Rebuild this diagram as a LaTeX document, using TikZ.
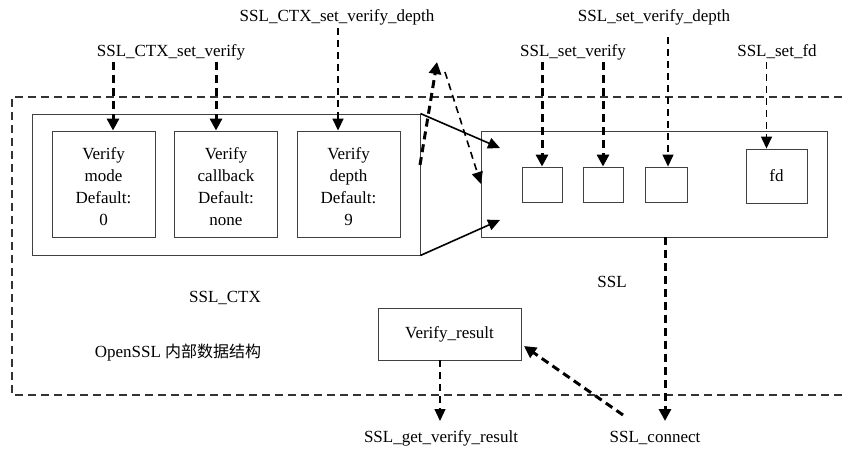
\documentclass[tikz,border=0pt]{standalone}
\usepackage{fontspec}
\setmainfont{Liberation Serif}
\newfontfamily\cjk{Noto Sans CJK SC}
\usetikzlibrary{arrows.meta}
\newcommand{\toppad}{\rule{0pt}{18pt}}
\begin{document}
\begin{tikzpicture}[x=1pt,y=-1pt,
  box/.style={draw=black!75, line width=0.9pt, inner sep=0pt, align=center,
    font=\fontsize{17}{22}\selectfont},
  lbl/.style={inner sep=0pt, font=\fontsize{17}{20}\selectfont},
  thk/.style={line width=3pt, dash pattern=on 8pt off 5pt, -{Triangle[length=12pt,width=12pt]}},
  thn/.style={line width=1.2pt, dash pattern=on 7pt off 5pt, -{Triangle[length=12pt,width=11pt]}},
  sol/.style={line width=1.6pt, -{Triangle[length=12pt,width=11pt]}},
  frame/.style={line width=1.2pt, draw=black!80, dash pattern=on 8pt off 5pt}]
\useasboundingbox (0,0) rectangle (842,450);

% outer frame
\draw[frame] (842,97) -- (12,97) -- (12,395) -- (842,395);

% SSL_CTX box
\node[box, minimum width=388pt, minimum height=141pt] (ctx) at (226,184.5) {};
\node[box, minimum width=103pt, minimum height=106pt] (b1) at (103.5,184) {\toppad Verify\\mode\\Default:\\0};
\node[box, minimum width=103pt, minimum height=106pt] (b2) at (226,184) {\toppad Verify\\callback\\Default:\\none};
\node[box, minimum width=103pt, minimum height=106pt] (b3) at (348.5,184) {\toppad Verify\\depth\\Default:\\9};

% SSL box
\node[box, minimum width=346pt, minimum height=106pt] (ssl) at (654,184) {};
\node[box, minimum width=40pt, minimum height=35pt] (s1) at (542,184.5) {};
\node[box, minimum width=40pt, minimum height=35pt] (s2) at (603,184.5) {};
\node[box, minimum width=42pt, minimum height=35pt] (s3) at (666,184.5) {};
\node[box, minimum width=61pt, minimum height=54pt] (fd) at (776.5,176) {fd};

% Verify_result box
\node[box, minimum width=143pt, minimum height=52pt] (vr) at (449.5,334) {Verify\_result};

% labels
\node[lbl] (ctxsv) at (171,52) {SSL\_CTX\_set\_verify};
\node[lbl] (ctxsvd) at (337,17) {SSL\_CTX\_set\_verify\_depth};
\node[lbl] (sslsv) at (573,52) {SSL\_set\_verify};
\node[lbl] (sslsvd) at (654,17) {SSL\_set\_verify\_depth};
\node[lbl] (sslfd) at (777,52) {SSL\_set\_fd};
\node[lbl] (ssllbl) at (612,282) {SSL};
\node[lbl] (ctxlbl) at (225,298) {SSL\_CTX};
\node[lbl] (osl) at (178,353) {OpenSSL {\cjk\fontsize{16}{20}\selectfont 内部数据结构}};
\node[lbl] (getvr) at (441,438) {SSL\_get\_verify\_result};
\node[lbl] (conn) at (655,438) {SSL\_connect};

% start / end points
\coordinate (a1) at (113,62);
\coordinate (a2) at (216,62);
\coordinate (a3) at (338,28);
\coordinate (a4) at (542,62);
\coordinate (a5) at (603,62);
\coordinate (a6) at (668,37);
\coordinate (a7) at (766.5,62);
\coordinate (m1) at (420,165);
\coordinate (peak) at (437,62);
\coordinate (m2) at (445,72);
\coordinate (m3) at (481,184);
\coordinate (t1) at (500,148);
\coordinate (t2) at (500,220);
\coordinate (g1) at (440,421);
\coordinate (g2) at (665,421);
\coordinate (c1) at (623,415);
\coordinate (c2) at (524,346);

% arrows from CTX setters
\draw[thk] (a1) -- (a1 |- b1.north);
\draw[thk] (a2) -- (a2 |- b2.north);
\draw[thn, line width=1.6pt] (a3) -- (a3 |- b3.north);

% arrows from SSL setters
\draw[thk] (a4) -- (s1.north);
\draw[thk] (a5) -- (s2.north);
\draw[thn] (a6) -- (a6 |- s3.north);
\draw[thn, line width=1.4pt] (a7) -- (a7 |- fd.north);

% CTX -> SSL
\draw[thk] (m1) -- (peak);
\draw[thn, line width=1.6pt] (m2) -- (m3);
\draw[sol] (ctx.north east) -- (t1);
\draw[sol] (ctx.south east) -- (t2);

% bottom arrows
\draw[thn] (g1 |- vr.south) -- (g1);
\draw[thk] (g2 |- ssl.south) -- (g2);
\draw[thk] (c1) -- (c2);
\end{tikzpicture}
\end{document}
